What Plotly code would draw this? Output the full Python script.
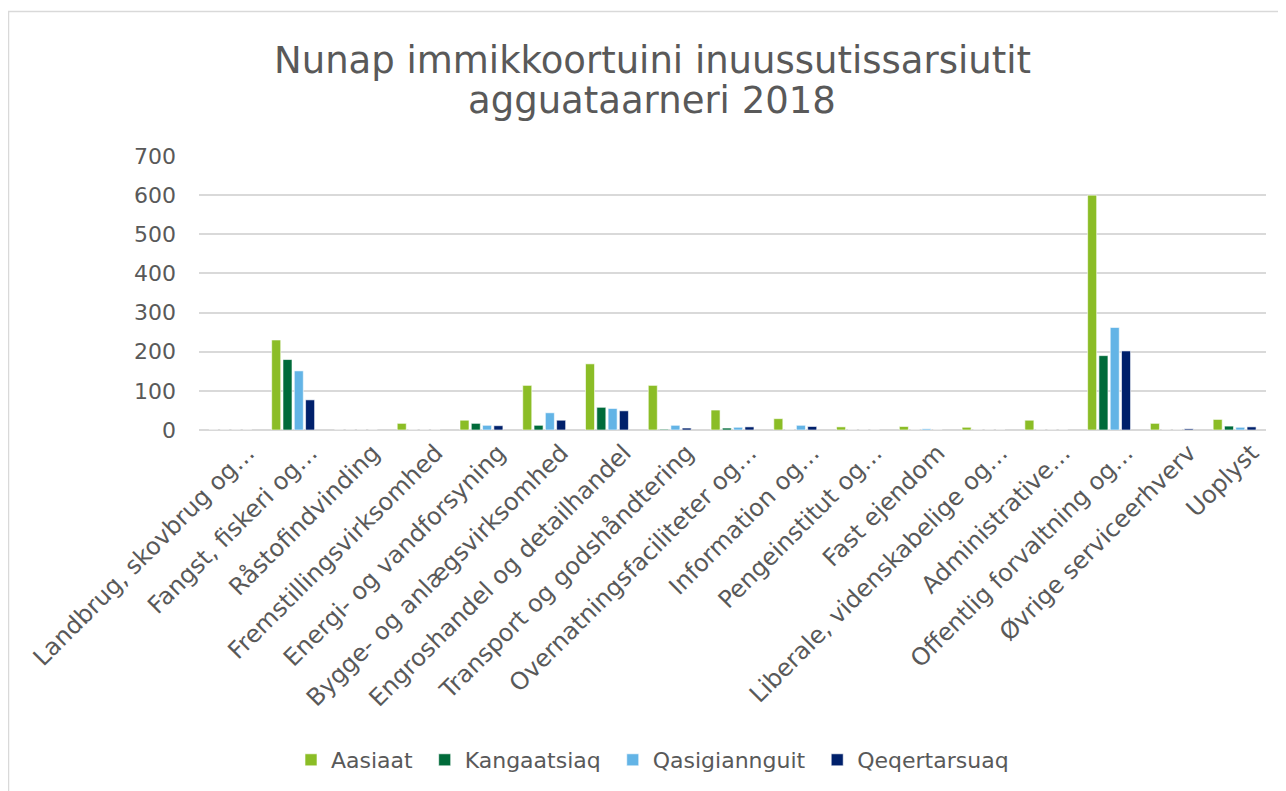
import plotly.graph_objects as go

categories = [
    "Landbrug, skovbrug og…", "Fangst, fiskeri og…", "Råstofindvinding",
    "Fremstillingsvirksomhed", "Energi- og vandforsyning", "Bygge- og anlægsvirksomhed",
    "Engroshandel og detailhandel", "Transport og godshåndtering", "Overnatningsfaciliteter og…",
    "Information og…", "Pengeinstitut og…", "Fast ejendom", "Liberale, videnskabelige og…",
    "Administrative…", "Offentlig forvaltning og…", "Øvrige serviceerhverv", "Uoplyst",
]
aasiaat       = [0, 230, 0, 17, 25, 114, 169, 114, 51, 29, 8, 9, 7, 25, 600, 17, 27]
kangaatsiaq   = [0, 180, 0, 0, 17, 12, 58, 2, 5, 0, 0, 0, 0, 0, 190, 0, 10]
qasigiannguit = [0, 151, 0, 0, 12, 44, 55, 12, 7, 12, 0, 3, 0, 0, 262, 0, 7]
qeqertarsuaq  = [0, 77, 0, 0, 11, 25, 49, 5, 8, 9, 0, 0, 0, 0, 202, 3, 8]

title_lines = ["Nunap immikkoortuini inuussutissarsiutit", "agguataarneri 2018"]

series = [
    ("Aasiaat", aasiaat, "#8BBD26"),
    ("Kangaatsiaq", kangaatsiaq, "#006B3A"),
    ("Qasigiannguit", qasigiannguit, "#63B4E6"),
    ("Qeqertarsuaq", qeqertarsuaq, "#00206B"),
]

# page has an 8px body margin; figure is drawn at (8, 8)
OFF = 8
W, H = 1278, 783
PL, PR, PT, PB = 199, 1266, 156, 430  # plot area in page pixels
L, T = PL - OFF, PT - OFF
R = OFF + W - PR
B = OFF + H - PB
FONT = "DejaVu Sans, Verdana, sans-serif"
GREY = "#595959"

fig = go.Figure()
for name, vals, col in series:
    fig.add_trace(go.Bar(
        name=name + "\u00a0", x=categories, y=vals,
        marker=dict(color=col, line=dict(color="rgba(255,255,255,0.6)", width=1)),
    ))

pw = PR - PL
ph = PB - PT
def px_x(p):
    return (p - PL) / pw
def px_y(p):
    return (PB - p) / ph

fig.add_shape(type="rect", xref="paper", yref="paper",
              x0=px_x(8.5), x1=px_x(1300), y0=px_y(800), y1=px_y(11.5),
              line=dict(color="#D9D9D9", width=1.5), fillcolor="rgba(0,0,0,0)", layer="below")

for txt, yc in zip(title_lines, [60, 100]):
    fig.add_annotation(text=txt, xref="paper", yref="paper",
                       x=px_x(652), y=px_y(yc), xanchor="center", yanchor="middle",
                       showarrow=False, font=dict(family=FONT, size=37, color=GREY))

fig.update_layout(
    width=W, height=H,
    margin=dict(l=L, r=R, t=T, b=B, autoexpand=False),
    paper_bgcolor="white", plot_bgcolor="white",
    barmode="group", bargap=0.28, bargroupgap=0.2,
    font=dict(family=FONT, color=GREY),
    xaxis=dict(
        tickangle=-45, tickfont=dict(family=FONT, size=24, color=GREY),
        showgrid=False, showline=False, ticks="", automargin=False,
        ticklabelshift=17, ticklabelstandoff=3,
    ),
    yaxis=dict(
        range=[0, 700], dtick=100, tickfont=dict(family=FONT, size=22, color=GREY),
        showgrid=True, gridcolor="#D9D9D9", gridwidth=2,
        zeroline=True, zerolinecolor="#D9D9D9", zerolinewidth=2,
        showline=False, ticks="", ticklabelstandoff=22, automargin=False,
    ),
    legend=dict(
        orientation="h", x=px_x(656), xanchor="center",
        y=px_y(760), yanchor="middle",
        font=dict(family=FONT, size=22, color=GREY),
        itemwidth=30, traceorder="normal",
    ),
)

fig.write_html("out.html")
